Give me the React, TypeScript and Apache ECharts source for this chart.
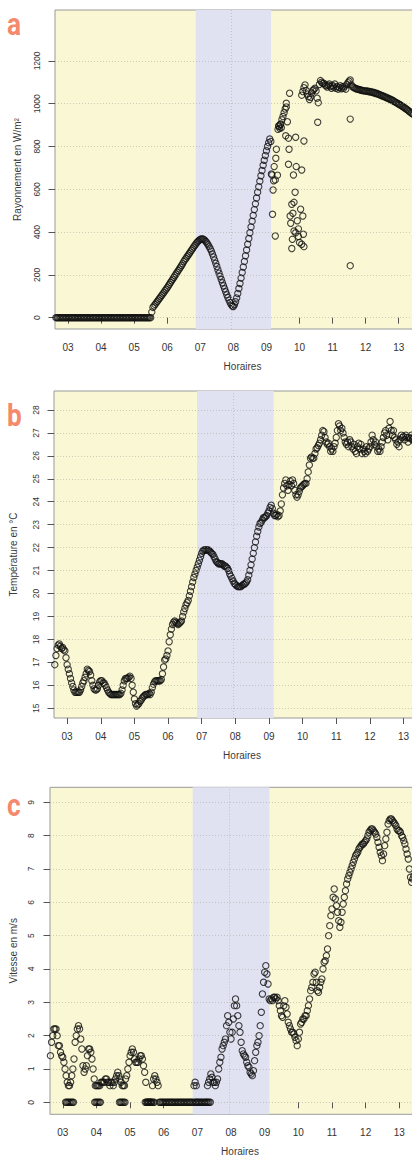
import { useEffect, useRef } from "react";
import * as echarts from "echarts";

// ---------- data ----------
// regular 2-minute samples starting at 02:38
const START_MIN = 158;
const STEP_MIN = 2;

const hourTicks = [3, 4, 5, 6, 7, 8, 9, 10, 11, 12, 13];
const radiationTicks = [0, 200, 400, 600, 800, 1000, 1200];
const temperatureTicks = [15, 16, 17, 18, 19, 20, 21, 22, 23, 24, 25, 26, 27, 28];
const windTicks = [0, 1, 2, 3, 4, 5, 6, 7, 8, 9];

const bandStartHour = 6.86;
const bandEndHour = 9.14;
const markerHour = 7.94;

// solar radiation W/m²
const radiation = [
  0, 0, 0, 0, 0, 0, 0, 0, 0, 0, 0, // 02:38-02:58
  0, 0, 0, 0, 0, 0, 0, 0, 0, 0, 0, 0, 0, 0, 0, 0, 0, 0, 0, 0, 0, 0, 0, 0, 0, 0, 0, 0, 0, 0, // 03
  0, 0, 0, 0, 0, 0, 0, 0, 0, 0, 0, 0, 0, 0, 0, 0, 0, 0, 0, 0, 0, 0, 0, 0, 0, 0, 0, 0, 0, 0, // 04
  0, 0, 0, 0, 0, 0, 0, 0, 0, 0, 0, 0, 0, 0, 0, 0, 26, 48, 55, 62, 69, 76, 83, 90, 97, 104, 111, 118, 126, 133, // 05
  140, 148, 156, 164, 172, 180, 188, 196, 204, 212, 220, 228, 236, 244, 252, 262, 270, 277, 285, 292, 300, 307, 315, 322, 330, 337, 344, 351, 357, 362, // 06
  366, 368, 368, 366, 362, 356, 349, 341, 332, 322, 311, 298, 284, 269, 254, 239, 223, 208, 193, 178, 163, 149, 135, 121, 107, 94, 82, 71, 61, 54, // 07
  52, 60, 74, 92, 113, 136, 160, 185, 211, 237, 263, 289, 316, 343, 370, 397, 424, 451, 478, 505, 532, 559, 586, 612, 638, 663, 688, 712, 736, 758, // 08
  780, 800, 818, 835, 823, 667, 597, 706, 644, 787, 666, 896, 885, 905, 925, 940, 958, 975, 1002, 916, 839, 1049, 441, 530, 488, 539, 586, 706, 453, 379, // 09
  351, 507, 1040, 1057, 1075, 1088, 1062, 1045, 1033, 1020, 1030, 1050, 1062, 1066, 1072, 1060, 1026, 1005, 1090, 1108, 1100, 1095, 1096, 1088, 1084, 1078, 1086, 1092, 1080, 1072, // 10
  1085, 1078, 1092, 1072, 1080, 1068, 1076, 1084, 1070, 1079, 1072, 1082, 1068, 1090, 1098, 1105, 1111, 1088, 1080, 1076, 1074, 1071, 1069, 1068, 1066, 1065, 1063, 1062, 1061, 1060, // 11
  1060, 1058, 1059, 1056, 1057, 1054, 1055, 1051, 1052, 1048, 1049, 1045, 1044, 1041, 1040, 1036, 1036, 1032, 1031, 1028, 1027, 1023, 1022, 1018, 1017, 1013, 1011, 1007, 1005, 1001, // 12
  999, 995, 993, 988, 986, 981, 979, 974, 971, 966, 963, 958, 955, 950, // 13:00-13:26
];

// extra radiation readings [minute of day, W/m²] (cloud passages)
const radiationExtra = [
  [549, 672], [551, 483], [553, 640], [556, 382], [557, 745], [561, 880], [563, 895], [565, 903], [567, 888],
  [575, 850], [576, 985], [581, 787], [580, 717], [583, 475], [586, 323], [587, 366], [589, 667], [590, 405],
  [593, 397], [593, 843], [598, 415], [604, 690], [604, 343], [606, 475], [607, 390], [608, 826], [608, 332],
  [633, 913], [692, 928], [692, 243],
];

// temperature °C
const temperature = [
  16.9, 17.3, 17.6, 17.75, 17.8, 17.7, 17.6, 17.65, 17.55, 17.5, 17.2, // 02:38-02:58
  16.9, 16.7, 16.5, 16.3, 16.1, 15.95, 15.8, 15.7, 15.7, 15.7, 15.7, 15.7, 15.8, 15.95, 16.1, 16.2, 16.35, 16.5, 16.7, 16.65, 16.6, 16.45, 16.2, 16.0, 15.85, 15.8, 15.8, 15.85, 16.0, 16.15, // 03
  16.2, 16.2, 16.1, 16.1, 16.0, 15.9, 15.8, 15.7, 15.65, 15.6, 15.6, 15.6, 15.6, 15.6, 15.6, 15.6, 15.6, 15.6, 15.65, 15.8, 16.0, 16.2, 16.3, 16.3, 16.3, 16.35, 16.4, 16.3, 16.0, 15.7, // 04
  15.4, 15.2, 15.1, 15.15, 15.2, 15.3, 15.35, 15.45, 15.5, 15.55, 15.6, 15.6, 15.6, 15.65, 15.6, 15.7, 15.9, 16.05, 16.15, 16.2, 16.2, 16.2, 16.2, 16.2, 16.25, 16.5, 16.8, 17.1, 17.15, 17.3, // 05
  17.5, 17.9, 18.2, 18.45, 18.65, 18.75, 18.8, 18.75, 18.7, 18.65, 18.7, 18.75, 18.8, 19.0, 19.2, 19.35, 19.5, 19.6, 19.7, 19.9, 20.1, 20.3, 20.5, 20.7, 20.85, 21.0, 21.15, 21.3, 21.45, 21.6, // 06
  21.75, 21.85, 21.9, 21.9, 21.9, 21.9, 21.9, 21.85, 21.8, 21.75, 21.7, 21.6, 21.5, 21.4, 21.35, 21.3, 21.3, 21.3, 21.3, 21.25, 21.2, 21.2, 21.15, 21.1, 21.0, 20.85, 20.75, 20.65, 20.55, 20.45, // 07
  20.4, 20.35, 20.3, 20.3, 20.3, 20.3, 20.35, 20.4, 20.4, 20.45, 20.5, 20.6, 20.8, 21.0, 21.25, 21.5, 21.75, 22.0, 22.25, 22.5, 22.7, 22.9, 23.05, 23.1, 23.2, 23.3, 23.3, 23.35, 23.4, 23.5, // 08
  23.6, 23.75, 23.85, 23.7, 23.5, 23.4, 23.4, 23.45, 23.35, 23.4, 23.6, 23.9, 24.3, 24.6, 24.8, 24.95, 24.7, 24.5, 24.75, 24.9, 24.7, 24.95, 24.8, 24.5, 24.3, 24.2, 24.3, 24.45, 24.6, 24.65, // 09
  24.7, 24.75, 24.8, 24.8, 25.0, 25.3, 25.6, 25.9, 25.95, 25.9, 25.9, 26.1, 26.3, 26.35, 26.45, 26.55, 26.7, 26.9, 27.1, 27.05, 26.8, 26.6, 26.5, 26.55, 26.4, 26.2, 26.3, 26.2, 26.4, 26.55, // 10
  26.8, 27.1, 27.4, 27.3, 27.1, 27.2, 27.0, 26.8, 26.6, 26.5, 26.6, 26.4, 26.7, 26.6, 26.4, 26.3, 26.5, 26.2, 26.1, 26.4, 26.55, 26.3, 26.5, 26.1, 26.3, 26.2, 26.1, 26.4, 26.2, 26.3, // 11
  26.4, 26.6, 26.9, 26.7, 26.5, 26.6, 26.4, 26.2, 26.3, 26.2, 26.4, 26.6, 26.8, 27.0, 27.1, 26.9, 26.7, 27.2, 27.5, 27.1, 26.9, 27.1, 26.8, 26.7, 26.5, 26.6, 26.4, 26.7, 26.9, 26.8, // 12
  26.85, 26.7, 26.9, 26.8, 26.6, 26.8, 26.75, 26.9, 26.7, 26.8, 26.6, 26.75, 26.85, 26.7, // 13:00-13:26
];

// wind speed m/s
const wind = [
  1.4, 1.8, 2.0, 2.2, 2.2, 2.2, 2.0, 1.7, 1.7, 1.5, 1.4, // 02:38-02:58
  1.35, 1.2, 1.0, 0.8, 0.6, 0.5, 0.5, 0.6, 0.8, 1.0, 1.3, 1.8, 2.0, 2.2, 2.3, 2.2, 1.9, 1.6, 1.1, 0.9, 1.0, 1.1, 1.4, 1.6, 1.6, 1.5, 1.3, 1.0, 0.7, 0.5, // 03
  0.5, 0.5, 0.5, 0.5, 0.6, 0.6, 0.6, 0.6, 0.7, 0.7, 0.6, 0.6, 0.5, 0.6, 0.6, 0.5, 0.6, 0.7, 0.8, 0.9, 0.8, 0.7, 0.6, 0.5, 0.5, 0.5, 0.7, 0.8, 1.0, 1.2, // 04
  1.4, 1.5, 1.6, 1.5, 1.3, 1.2, 1.2, 1.2, 1.3, 1.4, 1.4, 1.3, 1.1, 0.9, 0.6, 0, 0, 0, 0, 0, 0.5, 0.7, 0.8, 0.7, 0.6, 0.5, 0, 0, 0, 0, // 05
  0, 0, 0, 0, 0, 0, 0, 0, 0, 0, 0, 0, 0, 0, 0, 0, 0, 0, 0, 0, 0, 0, 0, 0, 0, 0, 0, 0.5, 0.6, 0.5, // 06
  0, 0, 0, 0, 0, 0, 0, 0, 0, 0.5, 0.6, 0.7, 0.85, 0.75, 0.6, 0.6, 0.5, 0.6, 0.7, 1.0, 1.2, 1.35, 1.6, 1.7, 1.8, 1.9, 2.3, 2.6, 2.4, 2.1, // 07
  1.9, 2.1, 2.5, 2.9, 3.1, 2.9, 2.6, 2.3, 2.1, 1.8, 1.55, 1.45, 1.4, 1.35, 1.2, 1.1, 1.05, 0.9, 0.85, 0.8, 0.95, 1.25, 1.5, 1.7, 1.8, 2.0, 2.3, 2.7, 3.25, 3.6, // 08
  3.9, 4.1, 3.85, 3.55, 3.1, 3.05, 3.1, 3.05, 3.15, 3.15, 3.1, 3.15, 3.05, 2.9, 2.75, 2.6, 2.55, 2.9, 3.05, 2.85, 2.65, 2.4, 2.3, 2.2, 2.1, 2.1, 2.05, 1.95, 1.85, 1.7, // 09
  1.9, 2.1, 2.35, 2.4, 2.5, 2.5, 2.6, 2.6, 2.75, 2.9, 3.1, 3.35, 3.45, 3.6, 3.85, 3.9, 3.6, 3.35, 3.3, 3.45, 3.6, 3.7, 4.0, 4.2, 4.25, 4.4, 4.6, 5.0, 5.3, 5.6, // 10
  5.8, 6.15, 6.4, 6.1, 5.9, 5.7, 5.45, 5.25, 5.4, 5.7, 5.95, 6.15, 6.35, 6.55, 6.7, 6.8, 6.9, 7.0, 7.1, 7.2, 7.3, 7.4, 7.45, 7.5, 7.6, 7.65, 7.7, 7.75, 7.75, 7.8, // 11
  7.85, 7.9, 8.0, 8.1, 8.15, 8.2, 8.2, 8.15, 8.1, 8.05, 7.95, 7.8, 7.65, 7.5, 7.4, 7.25, 7.45, 7.7, 7.9, 8.1, 8.35, 8.45, 8.5, 8.5, 8.45, 8.4, 8.35, 8.3, 8.2, 8.15, // 12
  8.15, 8.1, 8.0, 7.95, 7.85, 7.75, 7.6, 7.45, 7.3, 7.0, 6.75, 6.6, 6.7, 6.8, // 13:00-13:26
];

// calm readings (0 m/s) between the regular samples [minute of day]
const windZeroMinutes = [
  185, 187, 189, 191, 193, 195, 197, 199,
  237, 239, 241, 243, 245, 247,
  281, 283, 285, 287, 289, 291,
  327, 329, 331, 333, 335, 337, 339, 341, 343,
  415, 417, 419, 437, 439, 441, 443,
];

// ---------- presentation ----------
const FONT = "'Liberation Sans', Arial, Helvetica, sans-serif";
const YELLOW = "#FAF8D4";
const BAND = "#E0E2F1";
const GRID_LINE = "rgba(160,160,150,0.5)";
const MARKER_LINE = "#EDB88F";
const LETTER = "#F4896B";

const toPoints = (vals: number[]) => vals.map((v, i) => [(START_MIN + i * STEP_MIN) / 60, v]);
const pairsToPoints = (pairs: number[][]) => pairs.map(([m, v]) => [m / 60, v]);
const pad2 = (v: number) => (v < 10 ? "0" : "") + v;

const panels = [
  {
    left: 55, top: 10, height: 319, xMin: 2.606, pxPerHour: 33.07,
    yMin: -53, yMax: 1438, ticks: radiationTicks, title: "Rayonnement en W/m²",
    labelMargin: 13.5, nameGap: 33, letter: "a", letterY: 24,
    main: toPoints(radiation), extra: pairsToPoints(radiationExtra),
  },
  {
    left: 50, top: 391, height: 327, xMin: 2.61, pxPerHour: 34,
    yMin: 14.575, yMax: 28.826, ticks: temperatureTicks, title: "Température en °C",
    labelMargin: 13.5, nameGap: 36, letter: "b", letterY: 415.5,
    main: toPoints(temperature), extra: [] as number[][],
  },
  {
    left: 48.3, top: 787.3, height: 327, xMin: 2.62, pxPerHour: 33.8,
    yMin: -0.36, yMax: 9.45, ticks: windTicks, title: "Vitesse en m/s",
    labelMargin: 14.5, nameGap: 32, letter: "c", letterY: 805.5,
    main: toPoints(wind), extra: windZeroMinutes.map((m) => [m / 60, 0]),
  },
];

function buildOption() {
  const grid: any[] = [];
  const xAxis: any[] = [];
  const yAxis: any[] = [];
  const series: any[] = [];
  const graphic: any[] = [];
  const RIGHT_EDGE = 430;

  panels.forEach((p, i) => {
    const width = RIGHT_EDGE - p.left;
    grid.push({
      left: p.left, top: p.top, width, height: p.height,
      show: true, backgroundColor: YELLOW, borderColor: "#9a9a9a", borderWidth: 1,
      containLabel: false,
    });
    xAxis.push({
      type: "value", gridIndex: i, min: p.xMin, max: p.xMin + width / p.pxPerHour,
      axisLine: { show: false },
      splitLine: { show: false },
      axisTick: { show: true, length: 6, lineStyle: { color: "#555", width: 1 }, customValues: hourTicks },
      axisLabel: {
        customValues: hourTicks, formatter: (v: number) => pad2(Math.round(v)),
        fontSize: 10, color: "#333", margin: 13, fontFamily: FONT,
      },
      name: "Horaires", nameLocation: "middle", nameGap: 32.5,
      nameTextStyle: { fontSize: 10, color: "#3a3a3a", fontFamily: FONT },
    });
    yAxis.push({
      type: "value", gridIndex: i, min: p.yMin, max: p.yMax,
      axisLine: { show: false },
      splitLine: { show: false },
      axisTick: { show: true, length: 6.5, lineStyle: { color: "#555", width: 1 }, customValues: p.ticks },
      axisLabel: {
        customValues: p.ticks, rotate: 90, fontSize: 8.5, color: "#333",
        margin: p.labelMargin, fontFamily: FONT, formatter: (v: number) => String(v),
      },
      name: p.title, nameLocation: "middle", nameGap: p.nameGap,
      nameTextStyle: { fontSize: 10, color: "#3a3a3a", fontFamily: FONT },
    });
    // shaded period
    series.push({
      type: "line", xAxisIndex: i, yAxisIndex: i, data: [], z: 1, silent: true,
      markArea: {
        silent: true,
        itemStyle: { color: BAND },
        data: [[{ xAxis: bandStartHour }, { xAxis: bandEndHour }]],
      },
    });
    // dotted horizontal reference lines
    series.push({
      type: "line", xAxisIndex: i, yAxisIndex: i, data: [], z: 2, silent: true,
      markLine: {
        silent: true, symbol: ["none", "none"], label: { show: false },
        lineStyle: { type: [1, 2], color: GRID_LINE, width: 1 },
        data: p.ticks.map((t) => ({ yAxis: t })),
      },
    });
    // dotted vertical marker near 08:00
    series.push({
      type: "line", xAxisIndex: i, yAxisIndex: i, data: [], z: 2, silent: true,
      markLine: {
        silent: true, symbol: ["none", "none"], label: { show: false },
        lineStyle: { type: [1, 2], color: MARKER_LINE, width: 1 },
        data: [[{ coord: [markerHour, p.yMin] }, { coord: [markerHour, p.yMax] }]],
      },
    });
    const pointStyle = {
      type: "scatter", xAxisIndex: i, yAxisIndex: i, symbol: "circle", symbolSize: 6.3,
      itemStyle: { color: "rgba(0,0,0,0)", borderColor: "#111", borderWidth: 1.1 },
      silent: true, z: 3,
    };
    series.push({ ...pointStyle, data: p.main });
    if (p.extra.length) series.push({ ...pointStyle, data: p.extra });

    graphic.push({
      type: "text", x: 7, y: p.letterY, scaleX: 0.82, z: 100,
      style: { text: p.letter, x: 0, y: 0, font: "bold 32px Roboto, 'DejaVu Sans', sans-serif", fill: LETTER, verticalAlign: "middle", align: "left" },
    });
  });

  return {
    animation: false,
    backgroundColor: "#ffffff",
    grid, xAxis, yAxis, series, graphic,
  };
}

export default function App() {
  const ref = useRef<HTMLDivElement>(null);
  useEffect(() => {
    const el = ref.current;
    if (!el) return;
    const chart = echarts.init(el, null, { renderer: "svg" });
    chart.setOption(buildOption() as any);
    return () => chart.dispose();
  }, []);
  return (
    <div style={{ position: "absolute", left: 0, top: 0, width: 412, height: 1158, overflow: "hidden", background: "#fff" }}>
      <div ref={ref} style={{ width: 440, height: 1158 }} />
    </div>
  );
}
